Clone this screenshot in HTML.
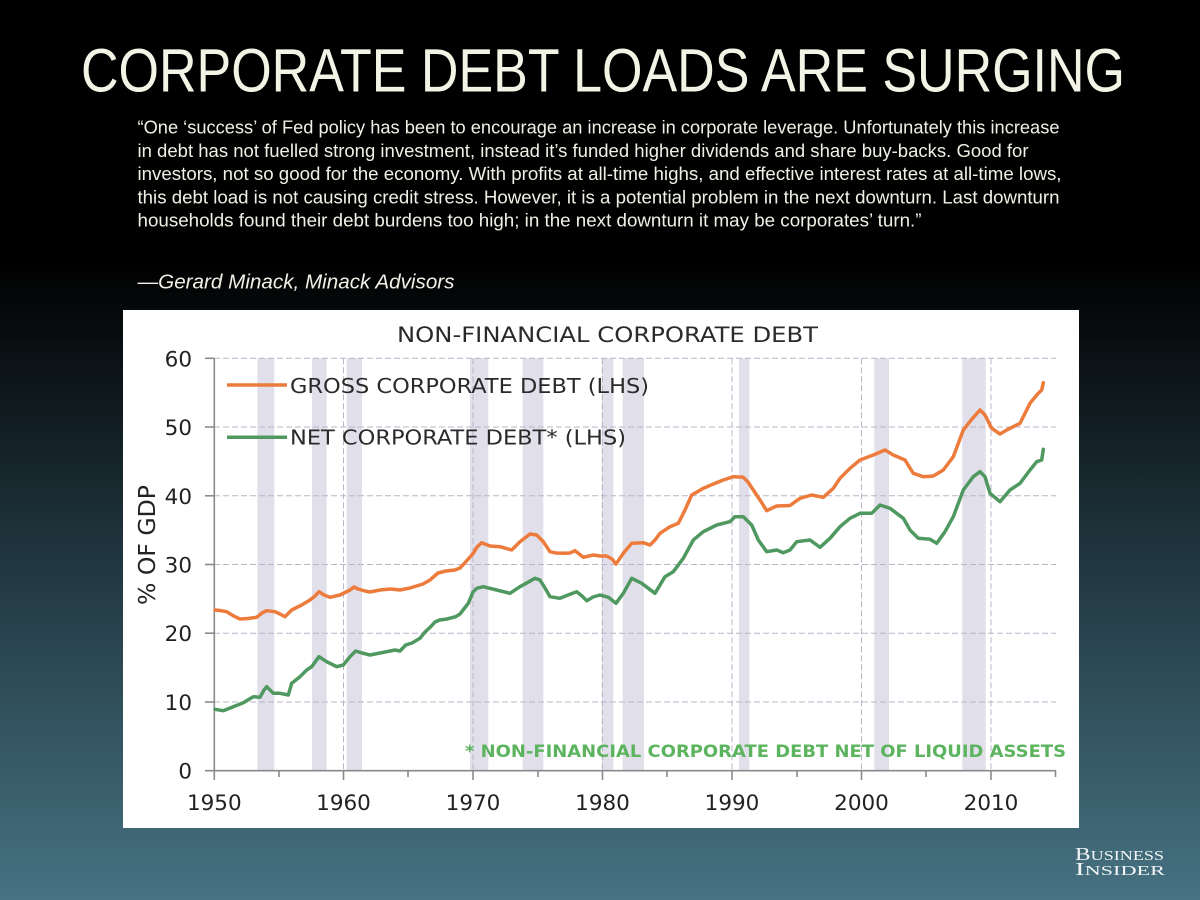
<!DOCTYPE html>
<html>
<head>
<meta charset="utf-8">
<style>
  html, body { margin:0; padding:0; width:1200px; height:900px; overflow:hidden; background:#000; }
  svg { display:block; }
</style>
</head>
<body>
<svg width="1200" height="900" viewBox="0 0 1200 900" xmlns="http://www.w3.org/2000/svg">
  <defs>
    <linearGradient id="bg" x1="0" y1="0" x2="0" y2="900" gradientUnits="userSpaceOnUse">
      <stop offset="0" stop-color="#000000"/>
      <stop offset="0.29" stop-color="#000000"/>
      <stop offset="0.62" stop-color="#20363f"/>
      <stop offset="0.92" stop-color="#3e6674"/>
      <stop offset="1" stop-color="#467282"/>
    </linearGradient>
  </defs>
  <rect x="0" y="0" width="1200" height="900" fill="url(#bg)"/>

  <!-- Title -->
  <text x="81" y="91.5" font-family="Liberation Sans, sans-serif" font-size="61" fill="#f4f4e6" textLength="1044" lengthAdjust="spacingAndGlyphs">CORPORATE DEBT LOADS ARE SURGING</text>

  <!-- Quote -->
  <g font-family="Liberation Sans, sans-serif" font-size="18" fill="#f0f0e6">
    <text x="137.5" y="133.5" textLength="922" lengthAdjust="spacingAndGlyphs">“One ‘success’ of Fed policy has been to encourage an increase in corporate leverage. Unfortunately this increase</text>
    <text x="137.5" y="156.8" textLength="891" lengthAdjust="spacingAndGlyphs">in debt has not fuelled strong investment, instead it’s funded higher dividends and share buy-backs. Good for</text>
    <text x="137.5" y="180" textLength="924" lengthAdjust="spacingAndGlyphs">investors, not so good for the economy. With profits at all-time highs, and effective interest rates at all-time lows,</text>
    <text x="137.5" y="203.3" textLength="922" lengthAdjust="spacingAndGlyphs">this debt load is not causing credit stress. However, it is a potential problem in the next downturn. Last downturn</text>
    <text x="137.5" y="226.6" textLength="784" lengthAdjust="spacingAndGlyphs">households found their debt burdens too high; in the next downturn it may be corporates’ turn.”</text>
    <text x="137.5" y="288.5" font-size="20" font-style="italic" textLength="317" lengthAdjust="spacingAndGlyphs">—Gerard Minack, Minack Advisors</text>
  </g>

  <!-- Chart panel -->
  <rect x="123" y="310" width="956" height="518" fill="#ffffff"/>

  <!-- Recession bars -->
  <g fill="#e1dfea">
    <rect x="257.3" y="358.3" width="17" height="412.4"/>
    <rect x="312" y="358.3" width="14.7" height="412.4"/>
    <rect x="346.7" y="358.3" width="15.3" height="412.4"/>
    <rect x="470" y="358.3" width="18.3" height="412.4"/>
    <rect x="522.7" y="358.3" width="20.6" height="412.4"/>
    <rect x="601.7" y="358.3" width="11.6" height="412.4"/>
    <rect x="622.7" y="358.3" width="21.3" height="412.4"/>
    <rect x="739" y="358.3" width="10.3" height="412.4"/>
    <rect x="874.3" y="358.3" width="14.7" height="412.4"/>
    <rect x="962.3" y="358.3" width="23.4" height="412.4"/>
  </g>

  <!-- Gridlines -->
  <g stroke="#b9b6c9" stroke-width="1" stroke-dasharray="6,3" fill="none">
    <line x1="214" y1="358.3" x2="1056" y2="358.3"/>
    <line x1="214" y1="427.0" x2="1056" y2="427.0"/>
    <line x1="214" y1="495.8" x2="1056" y2="495.8"/>
    <line x1="214" y1="564.5" x2="1056" y2="564.5"/>
    <line x1="214" y1="633.2" x2="1056" y2="633.2"/>
    <line x1="214" y1="702.0" x2="1056" y2="702.0"/>
    <line x1="343.5" y1="358.3" x2="343.5" y2="770.7"/>
    <line x1="473" y1="358.3" x2="473" y2="770.7"/>
    <line x1="602.5" y1="358.3" x2="602.5" y2="770.7"/>
    <line x1="732" y1="358.3" x2="732" y2="770.7"/>
    <line x1="861.5" y1="358.3" x2="861.5" y2="770.7"/>
    <line x1="991" y1="358.3" x2="991" y2="770.7"/>
  </g>

  <!-- Axes -->
  <g stroke="#8a8a8a" stroke-width="1.6" fill="none">
    <line x1="214.3" y1="358.3" x2="214.3" y2="771"/>
    <line x1="214" y1="770.7" x2="1056" y2="770.7"/>
    <line x1="205" y1="358.3" x2="214" y2="358.3"/>
    <line x1="205" y1="427.0" x2="214" y2="427.0"/>
    <line x1="205" y1="495.8" x2="214" y2="495.8"/>
    <line x1="205" y1="564.5" x2="214" y2="564.5"/>
    <line x1="205" y1="633.2" x2="214" y2="633.2"/>
    <line x1="205" y1="702.0" x2="214" y2="702.0"/>
    <line x1="205" y1="770.7" x2="214" y2="770.7"/>
    <line x1="214.3" y1="770.7" x2="214.3" y2="780"/>
    <line x1="279" y1="770.7" x2="279" y2="777"/>
    <line x1="343.5" y1="770.7" x2="343.5" y2="780"/>
    <line x1="408" y1="770.7" x2="408" y2="777"/>
    <line x1="473" y1="770.7" x2="473" y2="780"/>
    <line x1="538" y1="770.7" x2="538" y2="777"/>
    <line x1="602.5" y1="770.7" x2="602.5" y2="780"/>
    <line x1="667" y1="770.7" x2="667" y2="777"/>
    <line x1="732" y1="770.7" x2="732" y2="780"/>
    <line x1="797" y1="770.7" x2="797" y2="777"/>
    <line x1="861.5" y1="770.7" x2="861.5" y2="780"/>
    <line x1="926" y1="770.7" x2="926" y2="777"/>
    <line x1="991" y1="770.7" x2="991" y2="780"/>
    <line x1="1055.5" y1="770.7" x2="1055.5" y2="777"/>
  </g>

  <!-- Series -->
  <polyline fill="none" stroke="#ec7b3c" stroke-width="3.5" stroke-linejoin="round" stroke-linecap="round"
    points="215,610 220,610.5 226.7,611.7 235,616.7 240,619 248,618.5 256.7,617.3 262,613 266.7,610.7 275,611.7 280,614 285,616.7 291.7,610 301.7,605 310,600 315,596 319,591.7 324,595 330,597.3 340,595 346,592 350,590 354,587 358,589 365,591 370,592 380,590 391,589 400,590 410,588 423,584 430,580 438,573 446,571 455,570 460,568 465,562.7 470,557 473.3,553.3 477,547 481.7,542.7 490,546 500,546.7 511.7,550 520,541.7 530,534 536.7,535 543.3,541.7 550,551.7 556,553 563.3,553.3 570,553 575,550.7 583.3,557.3 593.3,555 600,556 606.7,556 612,559 616,564 623.3,553.3 631.7,543.3 643.3,542.7 650,545 655,540 660,533.3 670,526.7 678.3,523.3 685,510 691.7,495 697,492 703.3,488.3 713.3,484 723.3,480 733.3,476.7 743.3,477.3 748,482 753.3,490 760,500 766.7,510.7 776.7,506 790,505.5 800,498.3 811.7,495 823.3,497.3 833.3,488.3 840,478.3 850,468.3 860,460 873.3,455 885,450 893.3,455 905,460 913.3,473.3 923.3,476.7 933.3,476 943.3,470 953.3,456.7 963.3,430 971.7,419.3 980,410 985,415 991.7,428.3 1000,434 1006.7,430 1020,423.3 1030,403.3 1038.3,393.3 1041.7,390 1043.3,382.7"/>
  <polyline fill="none" stroke="#4f9960" stroke-width="3.5" stroke-linejoin="round" stroke-linecap="round"
    points="215,709.3 223.3,710.7 233.3,706.7 243.3,702.7 253.3,696.7 260,697.3 264,690 266.7,686.7 273.3,693.3 280,693.3 288.3,695 291.7,683.3 300,676.7 306.7,670 311.7,666.7 319,656.7 326.7,661.7 336.7,666.7 343.3,665 350,656.7 355.7,651 362,653 370,655 380,653 395,650 400,651 405.7,645 412,643 420,638.3 425,632 430.7,626.7 435,622 439.6,620 447,619 455.7,616.7 460,614 464.6,608 468.3,603.3 473,592 476.7,588.3 483.3,586.7 496.7,590 510,593.3 520,586.7 535,578.3 540,580 545,588 550,596.7 560,598.3 568,595 576.7,591.7 582,596 586.7,600.7 593,597 600,595 608.3,597.3 616,603.3 623.3,593.3 631.7,578.3 641.7,583.3 655,593.3 665,576.7 673.3,571.7 683.3,558.3 693.3,540 703.3,531.7 716.7,525 730,521.7 735,516.7 743.3,516.7 751.7,525 758.3,540 766.7,551.7 776.7,550 783.3,552.7 790,550 796.7,541.7 810,540 820,547.3 830,538.3 840,526.7 850,518.3 860,513.3 871.7,513.3 880,505 890,508.3 903.3,518.3 910,530 918.3,538.3 930,539.3 936.7,543.3 945,531.7 953.3,516.7 963.3,490 973.3,476.7 980,471.7 985,476.7 990,493.3 1000,501.7 1010,490 1020,483.3 1030,470 1036.7,461.7 1041.7,460 1043.3,449.3"/>

  <!-- Chart title -->
  <text x="397" y="342" font-family="DejaVu Sans, Liberation Sans, sans-serif" font-size="21" fill="#2a2a2a" textLength="421" lengthAdjust="spacingAndGlyphs">NON-FINANCIAL CORPORATE DEBT</text>

  <!-- Legend -->
  <line x1="227" y1="385" x2="287" y2="385" stroke="#ec7b3c" stroke-width="3.5"/>
  <line x1="227" y1="437.3" x2="287" y2="437.3" stroke="#4f9960" stroke-width="3.5"/>
  <g font-family="DejaVu Sans, Liberation Sans, sans-serif" font-size="20" fill="#2a2a2a">
    <text x="290" y="393" textLength="359" lengthAdjust="spacingAndGlyphs">GROSS CORPORATE DEBT (LHS)</text>
    <text x="290" y="444.3" textLength="336" lengthAdjust="spacingAndGlyphs">NET CORPORATE DEBT* (LHS)</text>
  </g>

  <!-- Y tick labels -->
  <g font-family="DejaVu Sans, Liberation Sans, sans-serif" font-size="21.5" fill="#222222" text-anchor="end">
    <text x="192" y="366.3">60</text>
    <text x="192" y="435">50</text>
    <text x="192" y="503.8">40</text>
    <text x="192" y="572.5">30</text>
    <text x="192" y="641.2">20</text>
    <text x="192" y="710">10</text>
    <text x="192" y="778.7">0</text>
  </g>

  <!-- X tick labels -->
  <g font-family="DejaVu Sans, Liberation Sans, sans-serif" font-size="21.5" fill="#222222" text-anchor="middle">
    <text x="214.3" y="810">1950</text>
    <text x="343.5" y="810">1960</text>
    <text x="473" y="810">1970</text>
    <text x="602.5" y="810">1980</text>
    <text x="732" y="810">1990</text>
    <text x="861.5" y="810">2000</text>
    <text x="991" y="810">2010</text>
  </g>

  <!-- Y axis title -->
  <text transform="translate(155,545) rotate(-90)" x="0" y="0" text-anchor="middle" font-family="DejaVu Sans, Liberation Sans, sans-serif" font-size="23" fill="#222222" textLength="120" lengthAdjust="spacingAndGlyphs">% OF GDP</text>

  <!-- Footnote -->
  <text x="465" y="757" font-family="DejaVu Sans, Liberation Sans, sans-serif" font-size="16.5" font-weight="bold" fill="#5cb45f" textLength="601" lengthAdjust="spacingAndGlyphs">* NON-FINANCIAL CORPORATE DEBT NET OF LIQUID ASSETS</text>

  <!-- Business Insider logo -->
  <g font-family="Liberation Serif, serif" fill="#f2f5f5">
    <text x="1075" y="860" textLength="89" lengthAdjust="spacingAndGlyphs"><tspan font-size="17.5">B</tspan><tspan font-size="13.5">USINESS</tspan></text>
    <text x="1075" y="875" textLength="90" lengthAdjust="spacingAndGlyphs"><tspan font-size="17.5">I</tspan><tspan font-size="13.5">NSIDER</tspan></text>
  </g>
</svg>
</body>
</html>
